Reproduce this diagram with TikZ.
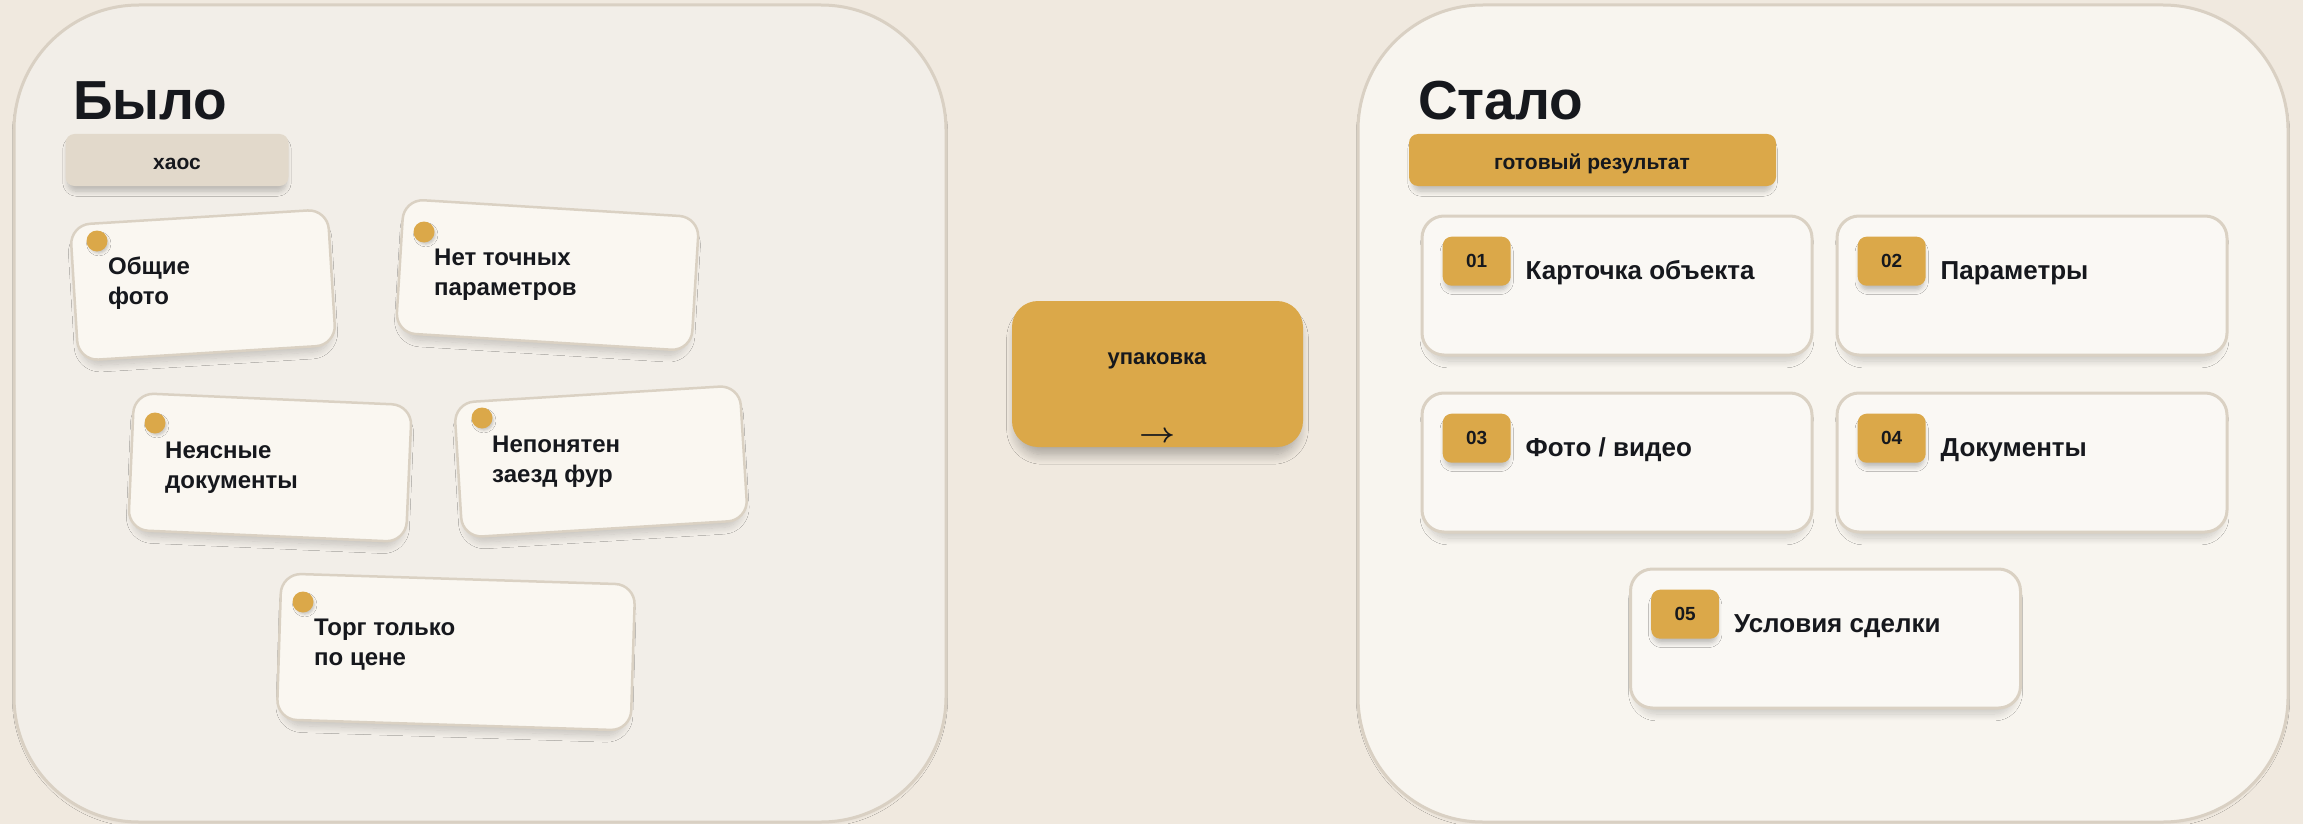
\documentclass[tikz,border=0pt]{standalone}
\usepackage{fix-cm}
\usepackage{fontspec}
\setmainfont{Liberation Sans}
\usetikzlibrary{shadows.blur}
\definecolor{bg}{HTML}{F0E9DF}
\definecolor{panelL}{HTML}{F2EEE8}
\definecolor{panelR}{HTML}{F8F5EF}
\definecolor{panelline}{HTML}{D9D0C3}
\definecolor{card}{HTML}{FAF7F1}
\definecolor{cardR}{HTML}{FAF8F4}
\definecolor{cardline}{HTML}{DAD1C3}
\definecolor{gold}{HTML}{DBA849}
\definecolor{chip}{HTML}{E2D9CB}
\definecolor{ink}{HTML}{16181D}
\newcommand\myfs[2]{\fontsize{#1}{#2}\selectfont\bfseries}
\tikzset{
  panel/.style={draw=panelline, line width=3pt, rounded corners=125pt, inner sep=0pt,
    blur shadow={shadow xshift=0pt, shadow yshift=-3pt, shadow blur radius=4pt, shadow blur steps=8, shadow opacity=10, shadow scale=0.995}},
  sticky/.style={draw=cardline, line width=2.5pt, fill=card, rounded corners=20pt, inner sep=0pt,
    blur shadow={shadow xshift=0pt, shadow yshift=-8pt, shadow blur radius=7pt, shadow blur steps=10, shadow opacity=18, shadow scale=0.97}},
  pin/.style={circle, fill=gold, minimum size=21pt, inner sep=0pt,
    blur shadow={shadow xshift=2pt, shadow yshift=-3pt, shadow blur radius=3pt, shadow opacity=22, shadow scale=0.9}},
  stext/.style={text=ink, font=\myfs{24}{30}, align=left, inner sep=0pt, anchor=base west},
  title/.style={text=ink, font=\myfs{55}{60}, inner sep=0pt, anchor=base west},
  tag/.style={rounded corners=9pt, inner sep=0pt, minimum height=52pt,
    blur shadow={shadow xshift=0pt, shadow yshift=-6pt, shadow blur radius=5pt, shadow blur steps=8, shadow opacity=22, shadow scale=0.98}},
  tagtext/.style={text=ink, font=\myfs{21}{25}, inner sep=0pt, anchor=base},
  stepcard/.style={draw=cardline, line width=3pt, fill=cardR, rounded corners=22pt, inner sep=0pt,
    minimum width=390pt, minimum height=139pt,
    blur shadow={shadow xshift=0pt, shadow yshift=-8pt, shadow blur radius=7pt, shadow blur steps=10, shadow opacity=18, shadow scale=0.975}},
  badge/.style={fill=gold, rounded corners=9pt, inner sep=0pt, minimum width=68pt, minimum height=49pt,
    text=ink, font=\myfs{19}{22},
    blur shadow={shadow xshift=0pt, shadow yshift=-6pt, shadow blur radius=5pt, shadow opacity=25, shadow scale=0.94}},
  steplabel/.style={text=ink, font=\myfs{26}{30}, inner sep=0pt, anchor=base west},
  goldbox/.style={fill=gold, rounded corners=26pt, inner sep=0pt,
    blur shadow={shadow xshift=0pt, shadow yshift=-10pt, shadow blur radius=10pt, shadow blur steps=12, shadow opacity=30, shadow scale=0.97}},
}
\begin{document}
\begin{tikzpicture}[x=1pt,y=-1pt]
\useasboundingbox (0,0) rectangle (2303,824);
\fill[bg] (0,0) rectangle (2303,824);

% panels
\node[panel, fill=panelL, minimum width=932pt, minimum height=817pt] (left) at (480,413.5) {};
\node[panel, fill=panelR, minimum width=930pt, minimum height=817pt] (right) at (1823,413.5) {};

% titles and tags
\node[title] (was) at (73,120) {Было};
\node[tag, fill=chip, minimum width=223pt] (chaos) at (177,160) {};
\node[tagtext] (chaost) at (177,169) {хаос};

\node[title] (now) at (1418,120) {Стало};
\node[tag, fill=gold, minimum width=367pt] (ready) at (1592.5,160) {};
\node[tagtext] (readyt) at (1592,169) {готовый результат};

% sticky cards
\node[sticky, rotate=3.5, minimum width=258pt, minimum height=136pt] (s1) at (203,285) {};
\node[pin] (p1) at (97,241) {};
\node[stext] (t1) at (108,304) {Общие\\фото};

\node[sticky, rotate=-3.5, minimum width=296pt, minimum height=134pt] (s2) at (547.5,275) {};
\node[pin] (p2) at (424,232) {};
\node[stext] (t2) at (434,295) {Нет точных\\параметров};

\node[sticky, rotate=-2.5, minimum width=278pt, minimum height=137pt] (s3) at (270,467.5) {};
\node[pin] (p3) at (155,423) {};
\node[stext] (t3) at (165,488) {Неясные\\документы};

\node[sticky, rotate=3.5, minimum width=286pt, minimum height=135pt] (s4) at (601,461.5) {};
\node[pin] (p4) at (482,418) {};
\node[stext] (t4) at (492,482) {Непонятен\\заезд фур};

\node[sticky, rotate=-1.8, minimum width=354pt, minimum height=146pt] (s5) at (456,652) {};
\node[pin] (p5) at (303,602) {};
\node[stext] (t5) at (314,665) {Торг только\\по цене};

% middle
\node[goldbox, minimum width=291pt, minimum height=146pt] (pack) at (1157.5,374) {};
\node[tagtext, font=\myfs{22}{26}] (packt) at (1157,364) {упаковка};
\node[text=ink, inner sep=0pt, font=\fontsize{28}{30}\selectfont\boldmath] (arrow) at (1157.5,437) {\scalebox{1.12}[1]{$\rightarrow$}};

% step cards
\foreach \n/\cx/\cy/\lab in {1/1617/285.5/{Карточка объекта}, 2/2032/285.5/{Параметры}, 3/1617/462.5/{Фото / видео}, 4/2032/462.5/{Документы}, 5/1825.5/638.5/{Условия сделки}}{
  \node[stepcard] (c\n) at (\cx,\cy) {};
  \node[badge, anchor=north west] (b\n) at ([shift={(22pt,-22pt)}]c\n.north west) {0\n};
  \node[steplabel] (l\n) at ([shift={(105pt,-65pt)}]c\n.north west) {\lab};
}
\end{tikzpicture}
\end{document}
